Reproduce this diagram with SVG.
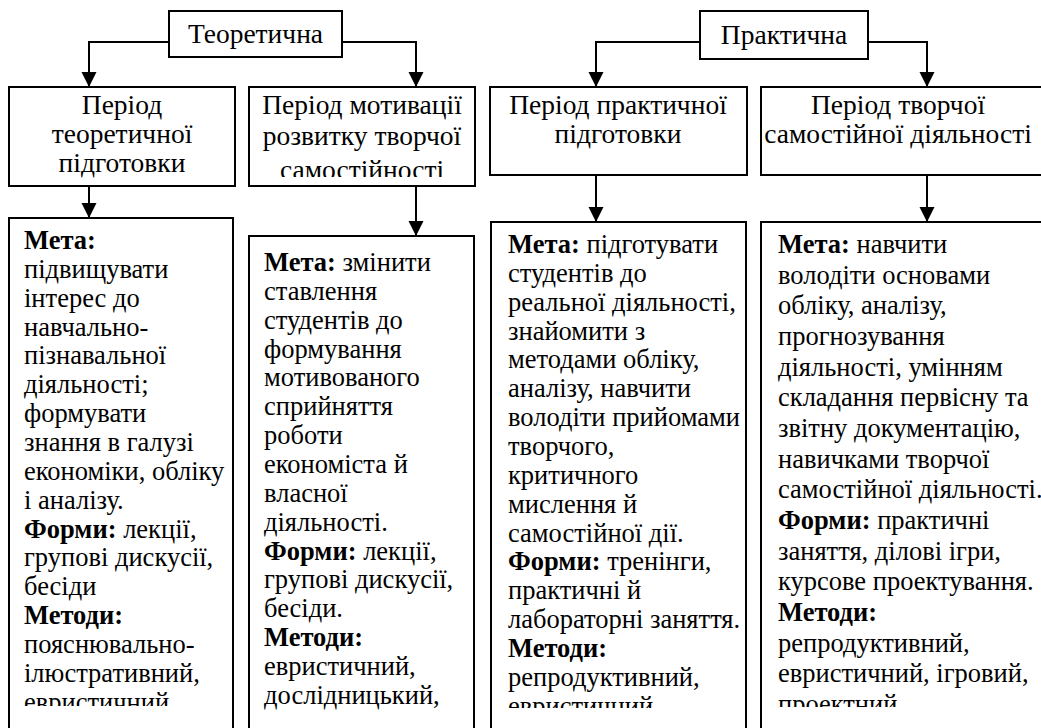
<svg xmlns="http://www.w3.org/2000/svg" width="1041" height="728" viewBox="0 0 1041 728">
<style>
.box{fill:#fff;stroke:#000;stroke-width:2}
.t{font-family:"Liberation Serif","Times New Roman",serif;font-size:26.5px;fill:#000}
.h{font-size:27.5px}
.c{text-anchor:middle}
.b{font-weight:bold}
.conn{stroke:#000;stroke-width:2;fill:none;marker-end:url(#arr)}
</style>
<defs>
<marker id="arr" markerUnits="userSpaceOnUse" markerWidth="16" markerHeight="16" refX="15" refY="7.5" orient="auto">
<path d="M0,0 L15,7.5 L0,15 Z" fill="#000"/>
</marker>
<clipPath id="clipB2"><rect x="249" y="87" width="226" height="90"/></clipPath>
<clipPath id="clipD1"><rect x="9" y="218" width="224" height="488"/></clipPath>
<clipPath id="clipD3"><rect x="491" y="222" width="255" height="486"/></clipPath>
<clipPath id="clipD4"><rect x="761" y="222" width="290" height="485"/></clipPath>
</defs>
<rect width="1041" height="728" fill="#fff"/>

<g id="connectors">
<path class="conn" d="M169,42 H89 V87"/>
<path class="conn" d="M342,42 H416 V87"/>
<path class="conn" d="M700,42 H596 V87"/>
<path class="conn" d="M868,42 H927 V87"/>
<path class="conn" d="M89,186 V218"/>
<path class="conn" d="M416,186 V236"/>
<path class="conn" d="M596,175 V222"/>
<path class="conn" d="M927,175 V222"/>
</g>

<g id="teor">
<rect class="box" x="169" y="11" width="173" height="46"/>
<text class="t h c" x="255.5" y="43">Теоретична</text>
</g>
<g id="prakt">
<rect class="box" x="700" y="11" width="168" height="48"/>
<text class="t h c" x="784" y="44">Практична</text>
</g>

<g id="p1">
<rect class="box" x="9" y="87" width="226" height="99"/>
<text class="t h c" x="122" y="114">Період</text>
<text class="t h c" x="122" y="143">теоретичної</text>
<text class="t h c" x="122" y="172">підготовки</text>
</g>
<g id="p2">
<rect class="box" x="249" y="87" width="226" height="99"/>
<g clip-path="url(#clipB2)">
<text class="t h c" x="362" y="114">Період мотивації</text>
<text class="t h c" x="362" y="145">розвитку творчої</text>
<text class="t h c" x="362" y="179">самостійності</text>
</g>
</g>
<g id="p3">
<rect class="box" x="490" y="87" width="257" height="88"/>
<text class="t h c" x="618" y="114">Період практичної</text>
<text class="t h c" x="618" y="143">підготовки</text>
</g>
<g id="p4">
<rect class="box" x="761" y="87" width="290" height="88"/>
<text class="t h c" x="898" y="114">Період творчої</text>
<text class="t h c" x="898" y="143">самостійної діяльності</text>
</g>

<g id="d1">
<rect class="box" x="9" y="218" width="224" height="520"/>
<g clip-path="url(#clipD1)">
<text class="t" x="24" y="249"><tspan class="b">Мета:</tspan></text>
<text class="t" x="24" y="277.85">підвищувати</text>
<text class="t" x="24" y="306.7">інтерес до</text>
<text class="t" x="24" y="335.55">навчально-</text>
<text class="t" x="24" y="364.4">пізнавальної</text>
<text class="t" x="24" y="393.25">діяльності;</text>
<text class="t" x="24" y="422.1">формувати</text>
<text class="t" x="24" y="450.95">знання в галузі</text>
<text class="t" x="24" y="479.8">економіки, обліку</text>
<text class="t" x="24" y="508.65">і аналізу.</text>
<text class="t" x="24" y="537.5"><tspan class="b">Форми:</tspan> лекції,</text>
<text class="t" x="24" y="566.35">групові дискусії,</text>
<text class="t" x="24" y="595.2">бесіди</text>
<text class="t" x="24" y="624.05"><tspan class="b">Методи:</tspan></text>
<text class="t" x="24" y="652.9">пояснювально-</text>
<text class="t" x="24" y="681.75">ілюстративний,</text>
<text class="t" x="24" y="710.6">евристичний</text>
</g>
</g>

<g id="d2">
<rect class="box" x="249" y="236" width="225" height="502"/>
<text class="t" x="264" y="271"><tspan class="b">Мета:</tspan> змінити</text>
<text class="t" x="264" y="299.85">ставлення</text>
<text class="t" x="264" y="328.7">студентів до</text>
<text class="t" x="264" y="357.55">формування</text>
<text class="t" x="264" y="386.4">мотивованого</text>
<text class="t" x="264" y="415.25">сприйняття</text>
<text class="t" x="264" y="444.1">роботи</text>
<text class="t" x="264" y="472.95">економіста й</text>
<text class="t" x="264" y="501.8">власної</text>
<text class="t" x="264" y="530.65">діяльності.</text>
<text class="t" x="264" y="559.5"><tspan class="b">Форми:</tspan> лекції,</text>
<text class="t" x="264" y="588.35">групові дискусії,</text>
<text class="t" x="264" y="617.2">бесіди.</text>
<text class="t" x="264" y="646.05"><tspan class="b">Методи:</tspan></text>
<text class="t" x="264" y="674.9">евристичний,</text>
<text class="t" x="264" y="703.75">дослідницький,</text>
</g>

<g id="d3">
<rect class="box" x="491" y="222" width="255" height="516"/>
<g clip-path="url(#clipD3)">
<text class="t" x="508" y="253"><tspan class="b">Мета:</tspan> підготувати</text>
<text class="t" x="508" y="281.85">студентів до</text>
<text class="t" x="508" y="310.7">реальної діяльності,</text>
<text class="t" x="508" y="339.55">знайомити з</text>
<text class="t" x="508" y="368.4">методами обліку,</text>
<text class="t" x="508" y="397.25">аналізу, навчити</text>
<text class="t" x="508" y="426.1">володіти прийомами</text>
<text class="t" x="508" y="454.95">творчого,</text>
<text class="t" x="508" y="483.8">критичного</text>
<text class="t" x="508" y="512.65">мислення й</text>
<text class="t" x="508" y="541.5">самостійної дії.</text>
<text class="t" x="508" y="570.35"><tspan class="b">Форми:</tspan> тренінги,</text>
<text class="t" x="508" y="599.2">практичні й</text>
<text class="t" x="508" y="628.05">лабораторні заняття.</text>
<text class="t" x="508" y="656.9"><tspan class="b">Методи:</tspan></text>
<text class="t" x="508" y="685.75">репродуктивний,</text>
<text class="t" x="508" y="714.6">евристичний</text>
</g>
</g>

<g id="d4">
<rect class="box" x="761" y="222" width="290" height="516"/>
<g clip-path="url(#clipD4)">
<text class="t" x="778" y="253"><tspan class="b">Мета:</tspan> навчити</text>
<text class="t" x="778" y="283.67">володіти основами</text>
<text class="t" x="778" y="314.34">обліку, аналізу,</text>
<text class="t" x="778" y="345">прогнозування</text>
<text class="t" x="778" y="375.67">діяльності, умінням</text>
<text class="t" x="778" y="406.34">складання первісну та</text>
<text class="t" x="778" y="437">звітну документацію,</text>
<text class="t" x="778" y="467.67">навичками творчої</text>
<text class="t" x="778" y="498.34">самостійної діяльності.</text>
<text class="t" x="778" y="529"><tspan class="b">Форми:</tspan> практичні</text>
<text class="t" x="778" y="559.67">заняття, ділові ігри,</text>
<text class="t" x="778" y="590.34">курсове проектування.</text>
<text class="t" x="778" y="621"><tspan class="b">Методи:</tspan></text>
<text class="t" x="778" y="651.67">репродуктивний,</text>
<text class="t" x="778" y="682.34">евристичний, ігровий,</text>
<text class="t" x="778" y="713">проектний,</text>
</g>
</g>
</svg>
